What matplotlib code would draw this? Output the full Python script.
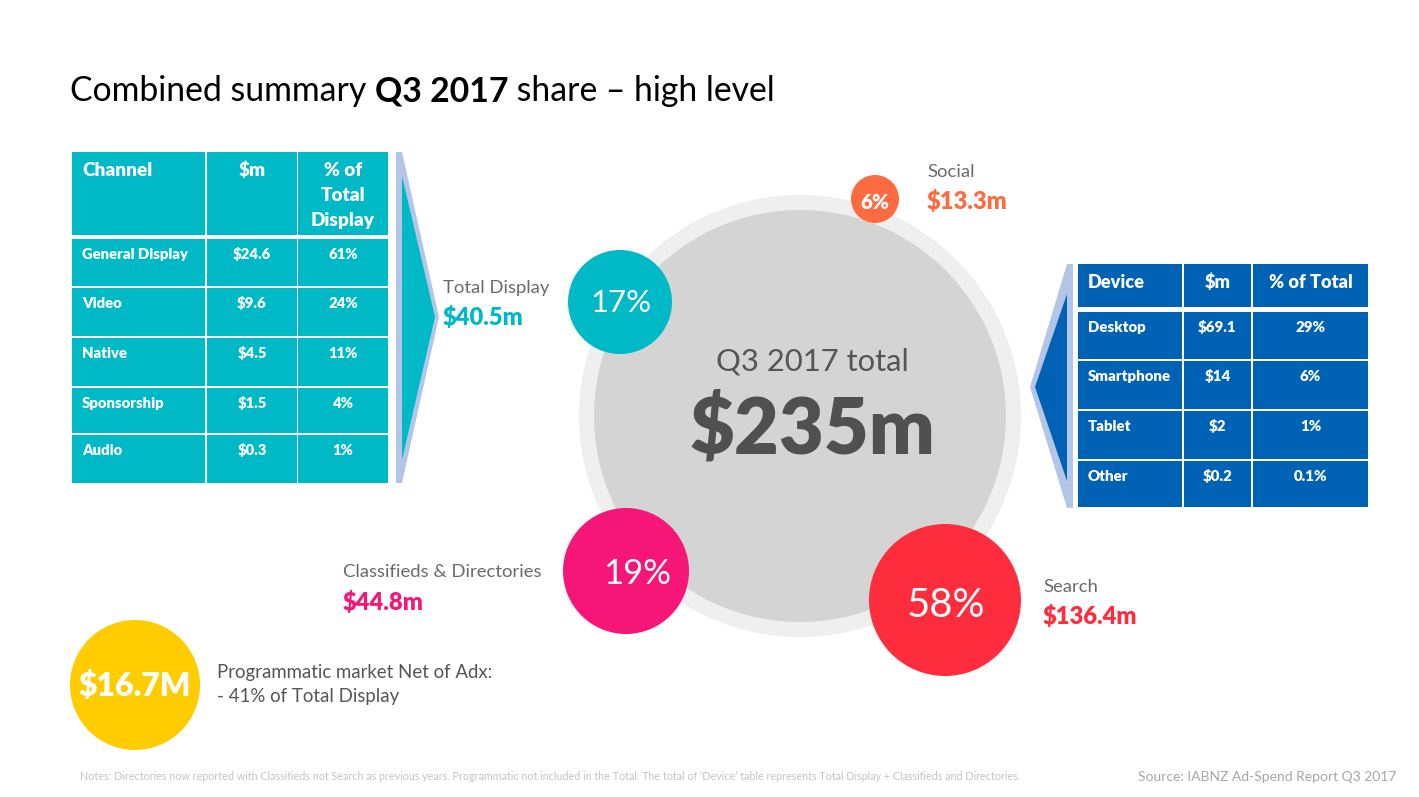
import matplotlib
matplotlib.use("Agg")
import matplotlib.pyplot as plt
from matplotlib.patches import Circle, Rectangle, Polygon

# ---------------- data ----------------
title_parts = ["Combined summary ", "Q3 2017", " share \u2013 high level"]
channels = ["General Display", "Video", "Native", "Sponsorship", "Audio"]
channel_spend = [24.6, 9.6, 4.5, 1.5, 0.3]
channel_share = [61, 24, 11, 4, 1]
channel_headers = ["Channel", "$m", "% of\nTotal\nDisplay"]

devices = ["Desktop", "Smartphone", "Tablet", "Other"]
device_spend = [69.1, 14, 2, 0.2]
device_share = [29, 6, 1, 0.1]
device_headers = ["Device", "$m", "% of Total"]

segments = ["Total Display", "Social", "Classifieds & Directories", "Search"]
segment_spend = [40.5, 13.3, 44.8, 136.4]
segment_share = [17, 6, 19, 58]
segment_colors = ["#00b9c6", "#ff6b40", "#f51678", "#fe2d3d"]

total_spend = 235
total_label = "Q3 2017 total"
programmatic_spend = 16.7
programmatic_share = 41

notes = ("Notes: Directories now reported with Classifieds not Search as previous years. "
         "Programmatic not included in the Total. The total of \u2018Device\u2019 table represents "
         "Total Display + Classifieds and Directories.")
source = "Source: IABNZ Ad-Spend Report Q3 2017"

# ---------------- styling ----------------
FONT = ["Lato", "DejaVu Sans"]
plt.rcParams["font.family"] = FONT
TEAL = "#00b9c6"
BLUE = "#0062b4"
LAV = "#b4c6e7"
GREY = "#6a6a6a"
HEAVY = "heavy"

fig = plt.figure(figsize=(14.19, 7.97), dpi=100)
ax = fig.add_axes([0, 0, 1, 1])
ax.set_xlim(0, 1419)
ax.set_ylim(797, 0)
ax.axis("off")
renderer = fig.canvas.get_renderer()


def width_of(t):
    return t.get_window_extent(renderer).width


def fit(x, y, s, w, size0=14, **kw):
    kw.setdefault("va", "baseline")
    t = ax.text(x, y, s, fontsize=size0, **kw)
    t.set_fontsize(size0 * w / width_of(t))
    return t


def size_for(s, w, weight="normal"):
    t = ax.text(0, 0, s, fontsize=14, weight=weight)
    fs = 14 * w / width_of(t)
    t.remove()
    return fs


# ---------------- title ----------------
weights = ["normal", "bold", "normal"]
tmp = [ax.text(0, 0, p, fontsize=20, weight=w) for p, w in zip(title_parts, weights)]
tot = sum(width_of(t) for t in tmp)
for t in tmp:
    t.remove()
tfs = 20 * 708 / tot
x = 70
for p, w in zip(title_parts, weights):
    t = ax.text(x, 101, p, fontsize=tfs, weight=w, color="black", va="baseline")
    x += width_of(t)

# ---------------- left table ----------------
lcols = [(72, 205), (207, 297), (298, 388)]
lrows = [(152, 235), (239, 286), (288, 336), (338, 386), (388, 433), (435, 483)]
for (y0, y1) in lrows:
    for (x0, x1) in lcols:
        ax.add_patch(Rectangle((x0, y0), x1 - x0, y1 - y0, color=TEAL, lw=0, zorder=2))

hfs = size_for(channel_headers[0], 70, HEAVY)
bfs = size_for(channels[0], 106, HEAVY)
for j, h in enumerate(channel_headers):
    lines = h.split("\n")
    for k, ln in enumerate(lines):
        if j == 0:
            ax.text(82, 176 + 25 * k, ln, fontsize=hfs, weight=HEAVY, color="white",
                    va="baseline", ha="left", zorder=3)
        else:
            cx = (lcols[j][0] + lcols[j][1]) / 2
            ax.text(cx, 176 + 25 * k, ln, fontsize=hfs, weight=HEAVY, color="white",
                    va="baseline", ha="center", zorder=3)
for i, (c, v, p) in enumerate(zip(channels, channel_spend, channel_share)):
    by = lrows[i + 1][0] + 20
    ax.text(82, by, c, fontsize=bfs, weight=HEAVY, color="white", va="baseline", zorder=3)
    ax.text((lcols[1][0] + lcols[1][1]) / 2, by, f"${v:g}", fontsize=bfs, weight=HEAVY,
            color="white", va="baseline", ha="center", zorder=3)
    ax.text((lcols[2][0] + lcols[2][1]) / 2, by, f"{p:g}%", fontsize=bfs, weight=HEAVY,
            color="white", va="baseline", ha="center", zorder=3)

# left chevron
ax.add_patch(Polygon([(396, 152), (402, 152), (439, 317), (402, 483), (396, 483)],
                     closed=True, color=LAV, lw=0, zorder=2))
ax.add_patch(Polygon([(402, 176), (435, 317), (402, 460)], closed=True, color=TEAL, lw=0, zorder=3))

# ---------------- right table ----------------
rcols = [(1078, 1182), (1184, 1251), (1253, 1368)]
rrows = [(264, 307), (312, 359), (361, 409), (411, 459), (461, 507)]
for (y0, y1) in rrows:
    for (x0, x1) in rcols:
        ax.add_patch(Rectangle((x0, y0), x1 - x0, y1 - y0, color=BLUE, lw=0, zorder=2))
rhfs = size_for(device_headers[0], 57, HEAVY)
rbfs = size_for(devices[1], 83, HEAVY)
for j, h in enumerate(device_headers):
    if j == 0:
        ax.text(1088, 288, h, fontsize=rhfs, weight=HEAVY, color="white", va="baseline", zorder=3)
    else:
        ax.text((rcols[j][0] + rcols[j][1]) / 2, 288, h, fontsize=rhfs, weight=HEAVY,
                color="white", va="baseline", ha="center", zorder=3)
for i, (d, v, p) in enumerate(zip(devices, device_spend, device_share)):
    by = rrows[i + 1][0] + 20
    ax.text(1088, by, d, fontsize=rbfs, weight=HEAVY, color="white", va="baseline", zorder=3)
    ax.text((rcols[1][0] + rcols[1][1]) / 2, by, f"${v:g}", fontsize=rbfs, weight=HEAVY,
            color="white", va="baseline", ha="center", zorder=3)
    ax.text((rcols[2][0] + rcols[2][1]) / 2, by, f"{p:g}%", fontsize=rbfs, weight=HEAVY,
            color="white", va="baseline", ha="center", zorder=3)

# right chevron
ax.add_patch(Polygon([(1073, 264), (1067, 264), (1030, 387), (1067, 508), (1073, 508)],
                     closed=True, color=LAV, lw=0, zorder=2))
ax.add_patch(Polygon([(1067, 294), (1035, 387), (1067, 481)], closed=True, color=BLUE, lw=0, zorder=3))

# ---------------- central circle ----------------
ax.add_patch(Circle((800, 416), 221, color="#efefef", lw=0, zorder=1))
ax.add_patch(Circle((800, 416), 206, color="#d4d4d4", lw=0, zorder=1.5))
fit(812, 370, total_label, 193, color="#555555", ha="center", zorder=3)
fit(812, 453, f"${total_spend}m", 246, weight=HEAVY, color="#505050", ha="center", zorder=3)

# ---------------- bubbles ----------------
bubble_xy = [(620, 302), (875, 199), (626, 571), (945, 600)]
bubble_r = [52, 24, 63, 76]
pct_xy = [(621, 312), (875, 209), (637, 584), (946, 617)]
pct_w = [61, 29, 68, 79]
pct_weight = ["normal", HEAVY, "normal", "normal"]
for (bx, by), r, col in zip(bubble_xy, bubble_r, segment_colors):
    ax.add_patch(Circle((bx, by), r, color=col, lw=0, zorder=4))
for (px, py), w, s, wt in zip(pct_xy, pct_w, segment_share, pct_weight):
    fit(px, py, f"{s}%", w, color="white", weight=wt, ha="center", zorder=5)

label_xy = [(443, 293), (927, 177), (343, 577), (1043, 592)]
amount_xy = [(443, 325), (927, 209), (343, 610), (1043, 624)]
lfs = size_for(segments[2], 198)
afs = size_for(f"${segment_spend[3]}m", 95, HEAVY)
for (lx, ly), (mx, my), name, amt, col in zip(label_xy, amount_xy, segments, segment_spend, segment_colors):
    ax.text(lx, ly, name, fontsize=lfs, color=GREY, va="baseline", zorder=5)
    ax.text(mx, my, f"${amt:g}m", fontsize=afs, weight=HEAVY, color=col, va="baseline", zorder=5)

# ---------------- programmatic ----------------
ax.add_patch(Circle((135, 685), 65, color="#ffcc00", lw=0, zorder=4))
fit(135, 696, f"${programmatic_spend}M", 113, weight=HEAVY, color="white", ha="center", zorder=5)
pfs = size_for("Programmatic market Net of Adx:", 277)
ax.text(217, 678, "Programmatic market Net of Adx:", fontsize=pfs, color="#555555", va="baseline")
ax.text(217, 702, f"- {programmatic_share}% of Total Display", fontsize=pfs, color="#555555",
        va="baseline")

# ---------------- footer ----------------
fit(80, 780, notes, 942, color="#c4c4c4")
fit(1396, 781, source, 259, color="#a6a6a6", ha="right")

fig.savefig("out.png", dpi=100, facecolor="white")
